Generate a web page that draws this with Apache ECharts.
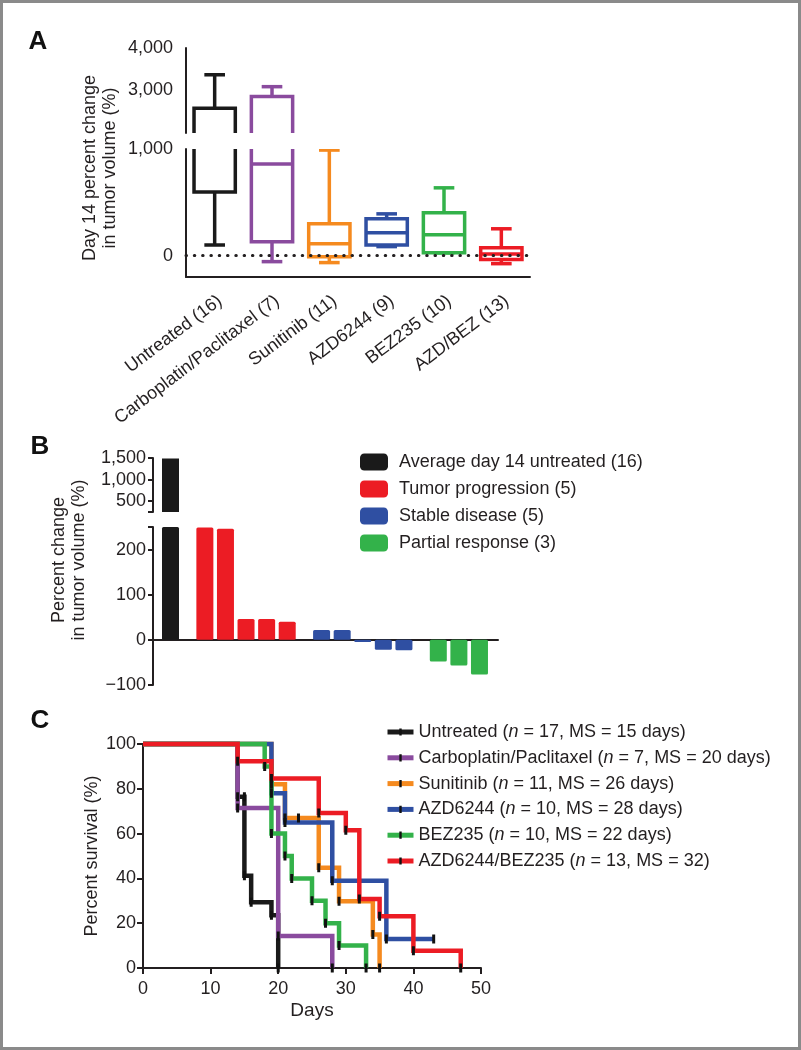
<!DOCTYPE html>
<html><head><meta charset="utf-8">
<script src="https://cdn.jsdelivr.net/npm/echarts@6/dist/echarts.min.js"></script>
<style>html,body{margin:0;padding:0;background:#fff}#c{width:801px;height:1050px}</style>
</head><body><div id="c"></div>
<script>
const FONT = '"Liberation Sans", Arial, Helvetica, sans-serif';
const TXT = '#231f20';

// ---------- Panel A: box plots ----------
const boxCategories = ['Untreated (16)', 'Carboplatin/Paclitaxel (7)', 'Sunitinib (11)', 'AZD6244 (9)', 'BEZ235 (10)', 'AZD/BEZ (13)'];
const boxMin = [100, -56, -65, 85, 25, -75];
const boxQ1  = [598, 131, -9, 100, 28, -37];
const boxMed = [1500, 860, 112, 215, 196, 15];
const boxQ3  = [2580, 2860, 299, 346, 402, 75];
const boxMax = [3370, 3090, 990, 392, 636, 252];
const boxColors = ['#1a1a1a', '#8a4b9e', '#f58a1f', '#2f4fa2', '#33b24a', '#ec1c24'];
const aUpperTicks = [2000, 3000, 4000];
const aUpperLabels = [3000, 4000];
const aLowerTicks = [0, 1000];

// ---------- Panel B: waterfall ----------
const waterfallNames = ['Average day 14 untreated (16)', 'Tumor progression (5)', 'Stable disease (5)', 'Partial response (3)'];
const waterfallColors = ['#1a1a1a', '#ec1c24', '#2f4fa2', '#33b24a'];
const avgUntreated = [1490];
const progression = [249, 246, 46, 46, 40];
const stable = [22, 22, -5, -22, -23];
const partial = [-48, -57, -77];
const bUpperTicks = [250, 500, 1000, 1500];
const bUpperLabels = [500, 1000, 1500];
const bLowerTicks = [-100, 0, 100, 200, 250];
const bLowerLabels = [-100, 0, 100, 200];

// ---------- Panel C: survival ----------
const survNames = [
  'Untreated (n = 17, MS = 15 days)',
  'Carboplatin/Paclitaxel (n = 7, MS = 20 days)',
  'Sunitinib (n = 11, MS = 26 days)',
  'AZD6244 (n = 10, MS = 28 days)',
  'BEZ235 (n = 10, MS = 22 days)',
  'AZD6244/BEZ235 (n = 13, MS = 32)'
];
const survColors = ['#1a1a1a', '#8a4b9e', '#f58a1f', '#2f4fa2', '#33b24a', '#ec1c24'];
const survUntreated = [[0,100],[14,76.5],[15,76.5],[15,41.2],[16,29.4],[19,23.5],[20,0]];
const survCarbo     = [[0,100],[14,71.4],[20,14.3],[28,0]];
const survSunitinib = [[0,100],[19,82],[21,67],[23,67],[26,44.7],[29,29.8],[34,14.9],[35,0]];
const survAZD       = [[0,100],[19,78],[21,65],[28,39],[36,13],[43,13]];
const survBEZ       = [[0,100],[18,90],[19,60],[21,50],[22,40],[25,30],[27,20],[29,10],[33,0]];
const survCombo     = [[0,100],[14,92.3],[19,84.6],[26,69.2],[30,61.5],[32,30.8],[35,23.1],[40,7.7],[47,0]];
const survData = [survUntreated, survCarbo, survSunitinib, survAZD, survBEZ, survCombo];
const survXTicks = [0, 10, 20, 30, 40, 50];

// ---------- helpers ----------
const fmt = v => (v < 0 ? '\u2212' : '') + Math.abs(v).toLocaleString('en-US');
const lbl = (extra) => Object.assign({color: TXT, fontSize: 18, fontFamily: FONT}, extra || {});
const axLine = {show: true, onZero: false, lineStyle: {color: TXT, width: 2}};
const TICK = 'path://M0,0L0,0ZM10,10L10,10ZM3.5,0.5L6.5,0.5L6.5,9.5L3.5,9.5Z';

function renderBox(params, api) {
  const i = api.value(0);
  const c = boxColors[params.dataIndex];
  const pMin = api.coord([i, api.value(1)]);
  const pQ1 = api.coord([i, api.value(2)]);
  const pMed = api.coord([i, api.value(3)]);
  const pQ3 = api.coord([i, api.value(4)]);
  const pMax = api.coord([i, api.value(5)]);
  const bw = api.size([1, 0])[0] * 0.72;
  const cw = bw * 0.5;
  const cx = pMed[0];
  const st = {stroke: c, lineWidth: 3.5, fill: 'none'};
  const ln = (x1, y1, x2, y2) => ({type: 'line', shape: {x1, y1, x2, y2}, style: st});
  return {type: 'group', children: [
    {type: 'rect', shape: {x: cx - bw / 2, y: pQ3[1], width: bw, height: pQ1[1] - pQ3[1]}, style: st},
    ln(cx - bw / 2, pMed[1], cx + bw / 2, pMed[1]),
    ln(cx, pQ3[1], cx, pMax[1]),
    ln(cx - cw / 2, pMax[1], cx + cw / 2, pMax[1]),
    ln(cx, pQ1[1], cx, pMin[1]),
    ln(cx - cw / 2, pMin[1], cx + cw / 2, pMin[1])
  ]};
}
const boxData = boxCategories.map((c, i) => [i, boxMin[i], boxQ1[i], boxMed[i], boxQ3[i], boxMax[i]]);

// waterfall positions (slot index plus a gap between response groups)
const wfGroups = [avgUntreated, progression, stable, partial];
let k = 0;
const wfData = wfGroups.map((g, gi) => g.map(v => { const p = [0.85 + k + 0.67 * gi, v]; k++; return p; }));
const wfMax = 0.85 + k - 1 + 0.67 * 3 + 0.9;

const series = [
  {type: 'custom', xAxisIndex: 0, yAxisIndex: 0, clip: true, renderItem: renderBox, data: boxData, encode: {x: 0, y: [1,2,3,4,5]}, silent: true},
  {type: 'custom', xAxisIndex: 1, yAxisIndex: 1, clip: true, renderItem: renderBox, data: boxData, encode: {x: 0, y: [1,2,3,4,5]}, silent: true,
   markLine: {silent: true, symbol: 'none', label: {show: false}, data: [{yAxis: 0}],
     lineStyle: {color: TXT, width: 3, type: [0.5, 7.8], cap: 'round'}}},
  {type: 'bar', name: waterfallNames[0], xAxisIndex: 2, yAxisIndex: 2, data: wfData[0], barWidth: 17, barGap: '-100%',
   itemStyle: {color: waterfallColors[0]}},
];
wfData.forEach((d, gi) => {
  series.push({type: 'bar', name: waterfallNames[gi], xAxisIndex: 3, yAxisIndex: 3, data: d, barWidth: 17, barGap: '-100%',
    itemStyle: {color: waterfallColors[gi], borderRadius: 1.5}});
});
survData.forEach((d, si) => {
  series.push({type: 'line', name: survNames[si], xAxisIndex: 4, yAxisIndex: 4, step: 'end', clip: false,
    symbol: TICK, symbolSize: 10, showAllSymbol: true,
    itemStyle: {color: '#111'},
    lineStyle: {color: survColors[si], width: 4.5, join: 'miter', cap: 'butt'},
    data: d.map((p, j) => j === 0 ? {value: p, symbol: 'none'} : p)});
});

const option = {
  animation: false,
  backgroundColor: '#fff',
  grid: [
    {left: 186, top: 48, width: 344, height: 85},
    {left: 186, top: 149, width: 344, height: 128},
    {left: 153, top: 458, width: 345, height: 54},
    {left: 153, top: 527, width: 345, height: 158},
    {left: 143, top: 744, width: 338, height: 224}
  ],
  xAxis: [
    {gridIndex: 0, type: 'category', data: boxCategories, show: false},
    {gridIndex: 1, type: 'category', data: boxCategories, axisLine: axLine,
     axisTick: {alignWithLabel: true, length: 7, lineStyle: {color: TXT, width: 2}},
     axisLabel: lbl({rotate: 37, margin: 15, interval: 0, verticalAlign: 'top'})},
    {gridIndex: 2, type: 'value', min: 0, max: wfMax, show: false},
    {gridIndex: 3, type: 'value', min: 0, max: wfMax,
     axisLine: {show: true, onZero: true, lineStyle: {color: TXT, width: 2}},
     axisTick: {show: false}, axisLabel: {show: false}, splitLine: {show: false}},
    {gridIndex: 4, type: 'value', min: 0, max: 50, interval: 10,
     name: 'Days', nameLocation: 'middle', nameGap: 33, nameTextStyle: lbl({fontSize: 19}),
     axisLine: axLine, axisTick: {length: 6, lineStyle: {color: TXT, width: 2}},
     axisLabel: lbl({margin: 12, customValues: survXTicks}), splitLine: {show: false}}
  ],
  yAxis: [
    {gridIndex: 0, type: 'value', min: 2000, max: 4000, axisLine: axLine, splitLine: {show: false},
     axisTick: {length: 7, customValues: aUpperTicks, lineStyle: {color: TXT, width: 2}},
     axisLabel: lbl({margin: 13, customValues: aUpperLabels, formatter: fmt})},
    {gridIndex: 1, type: 'value', min: -200, max: 1000, axisLine: axLine, splitLine: {show: false},
     axisTick: {length: 7, customValues: aLowerTicks, lineStyle: {color: TXT, width: 2}},
     axisLabel: lbl({margin: 13, customValues: aLowerTicks, formatter: fmt})},
    {gridIndex: 2, type: 'value', min: 250, max: 1500, axisLine: axLine, splitLine: {show: false},
     axisTick: {length: 5, customValues: bUpperTicks, lineStyle: {color: TXT, width: 2}},
     axisLabel: lbl({margin: 7, customValues: bUpperLabels, formatter: fmt})},
    {gridIndex: 3, type: 'value', min: -100, max: 250, axisLine: axLine, splitLine: {show: false},
     axisTick: {length: 5, customValues: bLowerTicks, lineStyle: {color: TXT, width: 2}},
     axisLabel: lbl({margin: 7, customValues: bLowerLabels, formatter: fmt})},
    {gridIndex: 4, type: 'value', min: 0, max: 100, interval: 20, axisLine: axLine, splitLine: {show: false},
     axisTick: {length: 6, lineStyle: {color: TXT, width: 2}},
     axisLabel: lbl({margin: 7})}
  ],
  legend: [
    {data: waterfallNames, orient: 'vertical', left: 355, top: 448, itemWidth: 28, itemHeight: 17, itemGap: 9,
     icon: 'roundRect', selectedMode: false,
     formatter: n => '{t|' + n + '}',
     textStyle: {color: TXT, fontSize: 18, fontFamily: FONT, lineHeight: 18,
       rich: {t: {color: TXT, fontSize: 18, fontFamily: FONT, lineHeight: 18, padding: [0, 0, 0, 6]}}}},
    {data: survNames, orient: 'vertical', left: 380, top: 718, itemWidth: 26, itemHeight: 10, itemGap: 7.8,
     selectedMode: false, lineStyle: {width: 5},
     formatter: n => { const j = n.indexOf('(n'); return '{t|' + n.slice(0, j + 1) + '}{i|n}{t|' + n.slice(j + 2) + '}'; },
     textStyle: {color: TXT, fontSize: 18, fontFamily: FONT, lineHeight: 18,
       rich: {t: {color: TXT, fontSize: 18, fontFamily: FONT, lineHeight: 18},
              i: {color: TXT, fontSize: 18, fontFamily: FONT, lineHeight: 18, fontStyle: 'italic'}}}}
  ],
  graphic: [
    {type: 'rect', shape: {x: 1.5, y: 1.5, width: 798, height: 1047}, style: {fill: 'none', stroke: '#8a8a8a', lineWidth: 3}, silent: true},
    {type: 'text', x: 38, y: 42, style: {text: 'A', fill: '#111', font: 'bold 26px ' + FONT, align: 'center', verticalAlign: 'middle'}},
    {type: 'text', x: 40, y: 447, style: {text: 'B', fill: '#111', font: 'bold 26px ' + FONT, align: 'center', verticalAlign: 'middle'}},
    {type: 'text', x: 40, y: 721, style: {text: 'C', fill: '#111', font: 'bold 26px ' + FONT, align: 'center', verticalAlign: 'middle'}},
    {type: 'text', x: 100, y: 168, rotation: Math.PI / 2,
     style: {text: 'Day 14 percent change\nin tumor volume (%)', fill: TXT, font: '18px ' + FONT, lineHeight: 20, align: 'center', verticalAlign: 'middle'}},
    {type: 'text', x: 69, y: 560, rotation: Math.PI / 2,
     style: {text: 'Percent change\nin tumor volume (%)', fill: TXT, font: '18px ' + FONT, lineHeight: 20, align: 'center', verticalAlign: 'middle'}},
    {type: 'text', x: 92, y: 856, rotation: Math.PI / 2,
     style: {text: 'Percent survival (%)', fill: TXT, font: '18px ' + FONT, align: 'center', verticalAlign: 'middle'}}
  ],
  series: series
};
const chart = echarts.init(document.getElementById('c'), null, {renderer: 'canvas'});
chart.setOption(option);
</script></body></html>
